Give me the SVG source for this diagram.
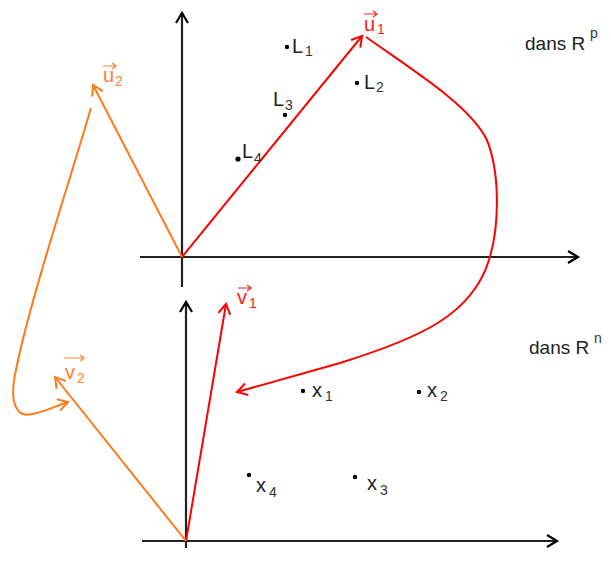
<svg xmlns="http://www.w3.org/2000/svg" width="611" height="562" viewBox="0 0 611 562">
<defs>
<marker id="mk" markerUnits="userSpaceOnUse" markerWidth="20" markerHeight="20" refX="0" refY="0" viewBox="-12 -10 14 20" orient="auto"><path d="M-10,-6 L0,0 L-10,6" fill="none" stroke="#000" stroke-width="2.2"/></marker>
<marker id="mr" markerUnits="userSpaceOnUse" markerWidth="20" markerHeight="20" refX="0" refY="0" viewBox="-12 -10 14 20" orient="auto"><path d="M-10,-6 L0,0 L-10,6" fill="none" stroke="#ff0000" stroke-width="2"/></marker>
<marker id="mo" markerUnits="userSpaceOnUse" markerWidth="20" markerHeight="20" refX="0" refY="0" viewBox="-12 -10 14 20" orient="auto"><path d="M-10,-6 L0,0 L-10,6" fill="none" stroke="#ff7a1a" stroke-width="2"/></marker>
</defs>
<style>
.ax{stroke:#222;stroke-width:2.2;fill:none}
.r{stroke:#ff0000;stroke-width:2;fill:none}
.o{stroke:#ff7a1a;stroke-width:2;fill:none}
text{font-family:"Liberation Sans",Arial,sans-serif}
.t{font-size:20px;fill:#222}
.s{font-size:14px;fill:#333}
.tr{font-size:20px;fill:#ff2020}
.sr{font-size:14px;fill:#ff2020}
.to{font-size:20px;fill:#ff8030}
.so{font-size:14px;fill:#ff8030}
.big{font-size:19px;fill:#222}
.dot{fill:#000}
</style>
<rect width="611" height="562" fill="#fff"/>
<g id="axes">
<line class="ax" x1="182" y1="287" x2="182" y2="13" marker-end="url(#mk)"/>
<line class="ax" x1="140" y1="257" x2="578" y2="257" marker-end="url(#mk)"/>
<line class="ax" x1="186" y1="548" x2="186" y2="302" marker-end="url(#mk)"/>
<line class="ax" x1="142" y1="541" x2="557" y2="541" marker-end="url(#mk)"/>
</g>
<g id="connectors">
<line class="r" x1="182" y1="257" x2="362" y2="36" marker-end="url(#mr)"/>
<line class="o" x1="182" y1="257" x2="93" y2="85" marker-end="url(#mo)"/>
<line class="r" x1="186" y1="541" x2="226" y2="304" marker-end="url(#mr)"/>
<line class="o" x1="186" y1="541" x2="55" y2="377" marker-end="url(#mo)"/>
<path class="r" d="M366,37 C420,75 468,105 486,138 C500,170 500,225 489,260 C472,315 420,338 340,363 L237,392" marker-end="url(#mr)"/>
<path class="o" d="M91,108 C70,180 30,300 16,370 C8,405 18,418 32,414 C45,412 55,406 68,402" marker-end="url(#mo)"/>
</g>
<g id="u1"><text class="tr" x="364" y="31">u</text><text class="sr" x="377" y="34">1</text><path d="M364,14 H377 M373,11 L377,14 L373,17" stroke="#ff2020" stroke-width="1.2" fill="none"/></g>
<g id="u2"><text class="to" x="103" y="82">u</text><text class="so" x="115" y="86">2</text><path d="M103,66 H116 M112,63 L116,66 L112,69" stroke="#ff8030" stroke-width="1.2" fill="none"/></g>
<g id="v1"><text class="tr" x="237" y="304">v</text><text class="sr" x="249" y="308">1</text><path d="M238,288 H251 M247,285 L251,288 L247,291" stroke="#ff2020" stroke-width="1.2" fill="none"/></g>
<g id="v2"><text class="to" x="65" y="379">v</text><text class="so" x="77" y="383">2</text><path d="M64,358 H84 M80,355 L84,358 L80,361" stroke="#ff8030" stroke-width="1.2" fill="none"/></g>
<g id="L1"><circle class="dot" cx="287" cy="47" r="2.2"/><text class="t" x="292" y="53">L</text><text class="s" x="305" y="56">1</text></g>
<g id="L2"><circle class="dot" cx="357" cy="83" r="2.2"/><text class="t" x="364" y="89">L</text><text class="s" x="376" y="92">2</text></g>
<g id="L3"><circle class="dot" cx="285" cy="115" r="2.2"/><text class="t" x="273" y="106">L</text><text class="s" x="285" y="110">3</text></g>
<g id="L4"><circle class="dot" cx="238" cy="159" r="2.6"/><text class="t" x="242" y="158">L</text><text class="s" x="254" y="163">4</text></g>
<g id="x1"><circle class="dot" cx="303" cy="391" r="2.2"/><text class="t" x="312" y="397">x</text><text class="s" x="325" y="401">1</text></g>
<g id="x2"><circle class="dot" cx="419" cy="392" r="2.2"/><text class="t" x="427" y="397">x</text><text class="s" x="440" y="401">2</text></g>
<g id="x3"><circle class="dot" cx="355" cy="477" r="2.2"/><text class="t" x="367" y="490">x</text><text class="s" x="380" y="495">3</text></g>
<g id="x4"><circle class="dot" cx="249" cy="475" r="2.2"/><text class="t" x="256" y="492">x</text><text class="s" x="269" y="497">4</text></g>
<g id="Rp"><text class="big" x="525" y="50">dans R</text><text class="s" x="590" y="38">p</text></g>
<g id="Rn"><text class="big" x="529" y="354">dans R</text><text class="s" x="594" y="343">n</text></g>
</svg>
